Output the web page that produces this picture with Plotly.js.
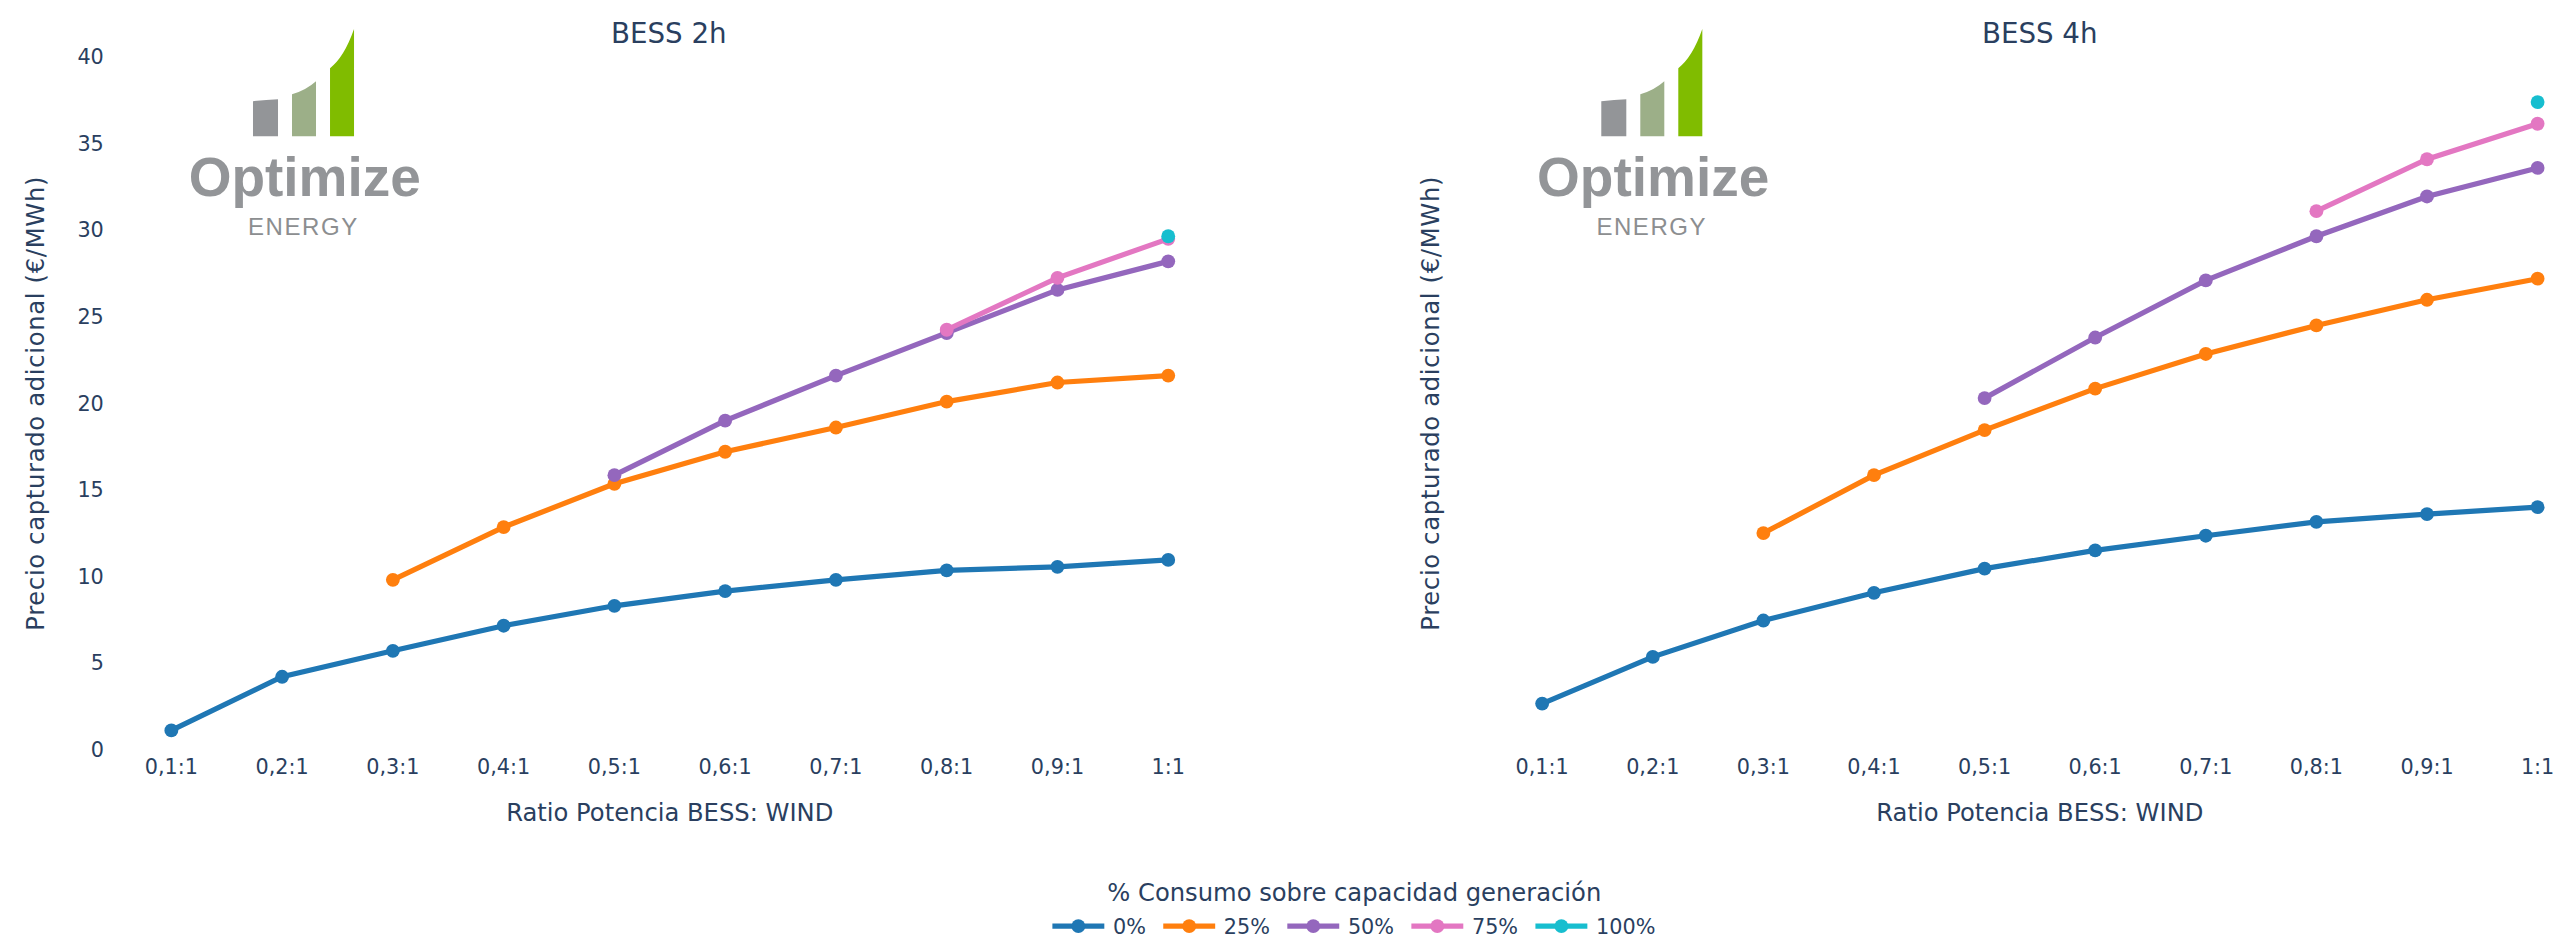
<!DOCTYPE html>
<html>
<head>
<meta charset="utf-8">
<script src="https://cdn.plot.ly/plotly-3.0.1.min.js"></script>
<style>
  html, body { margin: 0; padding: 0; background: #ffffff; overflow: hidden; }
  #wrap { width: 2556px; height: 952px; overflow: hidden; position: relative; }
  #chart { width: 1526px; height: 550px; transform-origin: 0 0; }
</style>
</head>
<body>
<div id="wrap"><div id="chart"></div></div>
<script>
// ---------------- DATA ----------------
const categories = ['0,1:1', '0,2:1', '0,3:1', '0,4:1', '0,5:1', '0,6:1', '0,7:1', '0,8:1', '0,9:1', '1:1'];
const seriesNames = ['0%', '25%', '50%', '75%', '100%'];
const seriesColors = ['#1f77b4', '#ff7f0e', '#9467bd', '#e377c2', '#17becf'];

// BESS 2h
const bess2h_0   = [1.1, 4.2, 5.7, 7.15, 8.3, 9.15, 9.8, 10.35, 10.55, 10.95];
const bess2h_25  = [null, null, 9.8, 12.85, 15.35, 17.2, 18.6, 20.1, 21.2, 21.6];
const bess2h_50  = [null, null, null, null, 15.85, 19.0, 21.6, 24.05, 26.55, 28.2];
const bess2h_75  = [null, null, null, null, null, null, null, 24.25, 27.25, 29.5];
const bess2h_100 = [null, null, null, null, null, null, null, null, null, 29.65];

// BESS 4h
const bess4h_0   = [2.65, 5.35, 7.45, 9.05, 10.45, 11.5, 12.35, 13.15, 13.6, 14.0];
const bess4h_25  = [null, null, 12.5, 15.85, 18.45, 20.85, 22.85, 24.5, 25.98, 27.2];
const bess4h_50  = [null, null, null, null, 20.3, 23.8, 27.1, 29.65, 31.95, 33.6];
const bess4h_75  = [null, null, null, null, null, null, null, 31.1, 34.1, 36.15];
const bess4h_100 = [null, null, null, null, null, null, null, null, null, 37.4];

const yTickVals = [0, 5, 10, 15, 20, 25, 30, 35, 40];

const subplotTitles = ['BESS 2h', 'BESS 4h'];
const xTitle = 'Ratio Potencia BESS: WIND';
const yTitle = 'Precio capturado adicional (€/MWh)';
const legendTitle = '% Consumo sobre capacidad generación';
const logoWord = 'Optimize';
const logoSub = 'ENERGY';

// ---------------- LAYOUT HELPERS ----------------
const S = 952 / 550;                 // render scale
const WL = 1526, HL = 550;           // logical size
// plot area in full-res pixels
const PX0 = 116, PX1 = 2592.4, PY0 = 57, PY1 = 749;
const fx = p => (p - PX0) / (PX1 - PX0);
const fy = p => (PY1 - p) / (PY1 - PY0);
const dom1 = [0, fx(1223.4)];
const dom2 = [fx(1486.6), 1];

const FONT = 'Verdana, "DejaVu Sans", sans-serif';
const LOGOFONT = '"Liberation Sans", Arial, sans-serif';
const TXT = '#2a3f5f';

const sets = [
  [bess2h_0, bess2h_25, bess2h_50, bess2h_75, bess2h_100],
  [bess4h_0, bess4h_25, bess4h_50, bess4h_75, bess4h_100]
];

const traces = [];
sets.forEach((set, si) => {
  set.forEach((vals, k) => {
    traces.push({
      type: 'scatter',
      mode: 'lines+markers',
      x: categories,
      y: vals,
      name: seriesNames[k],
      legendgroup: seriesNames[k],
      showlegend: si === 0,
      xaxis: si === 0 ? 'x' : 'x2',
      yaxis: si === 0 ? 'y' : 'y2',
      line: { color: seriesColors[k], width: 3 },
      marker: { color: seriesColors[k], size: 8 },
      connectgaps: false,
      hoverinfo: 'skip'
    });
  });
});

// logo (drawn as shapes + text), full-res px
function pathStr(cmds, dx) {
  return cmds.map(c => {
    const op = c[0];
    if (op === 'Z') return 'Z';
    const nums = [];
    for (let i = 1; i < c.length; i += 2) {
      nums.push(fx(c[i] + dx).toFixed(5) + ',' + fy(c[i + 1]).toFixed(5));
    }
    return op + nums.join(' ');
  }).join(' ');
}
const logoBars = [
  { color: '#939598', cmds: [['M', 253, 136], ['L', 253, 101], ['Q', 266, 99.6, 278, 99], ['L', 278, 136], ['Z']] },
  { color: '#9caf88', cmds: [['M', 292, 136], ['L', 292, 94], ['Q', 306, 90, 316, 81], ['L', 316, 136], ['Z']] },
  { color: '#80bc00', cmds: [['M', 330, 136], ['L', 330, 68], ['Q', 344, 57.5, 354, 29], ['L', 354, 136], ['Z']] }
];
const logoOffsets = [0, 1348];
const shapes = [];
const annotations = [];
logoOffsets.forEach(dx => {
  logoBars.forEach(b => {
    shapes.push({
      type: 'path', xref: 'paper', yref: 'paper',
      path: pathStr(b.cmds, dx),
      fillcolor: b.color, line: { width: 0 }, layer: 'above'
    });
  });
  annotations.push({
    xref: 'paper', yref: 'paper', x: fx(304 + dx), y: fy(176.5), xanchor: 'center', yanchor: 'middle',
    text: logoWord, showarrow: false, borderpad: 0,
    font: { family: LOGOFONT, size: 55 / S, color: '#939598', weight: 700 }
  });
  annotations.push({
    xref: 'paper', yref: 'paper', x: fx(304 + dx), y: fy(226), xanchor: 'center', yanchor: 'middle',
    text: logoSub, showarrow: false, borderpad: 0,
    font: { family: LOGOFONT, size: 24 / S, color: '#8c8e90', weight: 400 }
  });
});
// subplot titles
[dom1, dom2].forEach((d, i) => {
  annotations.push({
    xref: 'paper', yref: 'paper', x: (d[0] + d[1]) / 2, y: 1, xanchor: 'center', yanchor: 'bottom',
    yshift: 2,
    text: subplotTitles[i], showarrow: false, font: { family: FONT, size: 16, color: TXT }
  });
});

const xAxisBase = {
  type: 'category', categoryorder: 'array', categoryarray: categories,
  range: [-0.5, 9.5], showgrid: false, zeroline: false, showline: false,
  ticks: '', ticklabelstandoff: 1, tickfont: { family: FONT, size: 12, color: TXT },
  title: { text: xTitle, standoff: 15, font: { family: FONT, size: 14, color: TXT } }
};
const yAxisBase = {
  range: [0, 40], tickvals: yTickVals, showgrid: false, zeroline: false, showline: false,
  ticks: '', tickfont: { family: FONT, size: 12, color: TXT },
  title: { text: yTitle, font: { family: FONT, size: 14, color: TXT } }
};

const layout = {
  width: WL, height: HL,
  margin: { l: PX0 / S, r: WL - PX1 / S, t: PY0 / S, b: HL - PY1 / S, autoexpand: false },
  paper_bgcolor: '#ffffff', plot_bgcolor: '#ffffff',
  font: { family: FONT, size: 12, color: TXT },
  showlegend: true,
  legend: {
    orientation: 'h', x: 0.5, xanchor: 'center', y: fy(869), yanchor: 'top',
    font: { family: FONT, size: 12, color: TXT },
    title: { text: legendTitle, side: 'top center', font: { family: FONT, size: 14, color: TXT } },
    bgcolor: 'rgba(0,0,0,0)'
  },
  xaxis: Object.assign({}, xAxisBase, { domain: dom1, anchor: 'y' }),
  yaxis: Object.assign({}, yAxisBase, { domain: [0, 1], anchor: 'x', ticklabelstandoff: 6 }),
  xaxis2: Object.assign({}, xAxisBase, { domain: dom2, anchor: 'y2' }),
  yaxis2: Object.assign({}, yAxisBase, { domain: [0, 1], anchor: 'x2', showticklabels: false }),
  shapes: shapes,
  annotations: annotations,
  hovermode: false
};

const gd = document.getElementById('chart');
gd.style.transform = 'scale(' + S + ')';
Plotly.newPlot(gd, traces, layout, { displayModeBar: false, staticPlot: true }).then(() => {
  document.querySelectorAll('.g-ytitle text, .g-y2title text').forEach(t => {
    t.style.letterSpacing = '0.4px';
  });
  const yt = document.querySelector('.g-ytitle');
  if (yt) yt.setAttribute('transform', 'translate(-3.5,0)');
  const yt2 = document.querySelector('.g-y2title');
  if (yt2) yt2.setAttribute('transform', 'translate(3.5,0)');
  document.querySelectorAll('.annotation-text').forEach(t => {
    if (t.textContent === logoSub) t.style.letterSpacing = '0.9px';
  });
});
</script>
</body>
</html>
